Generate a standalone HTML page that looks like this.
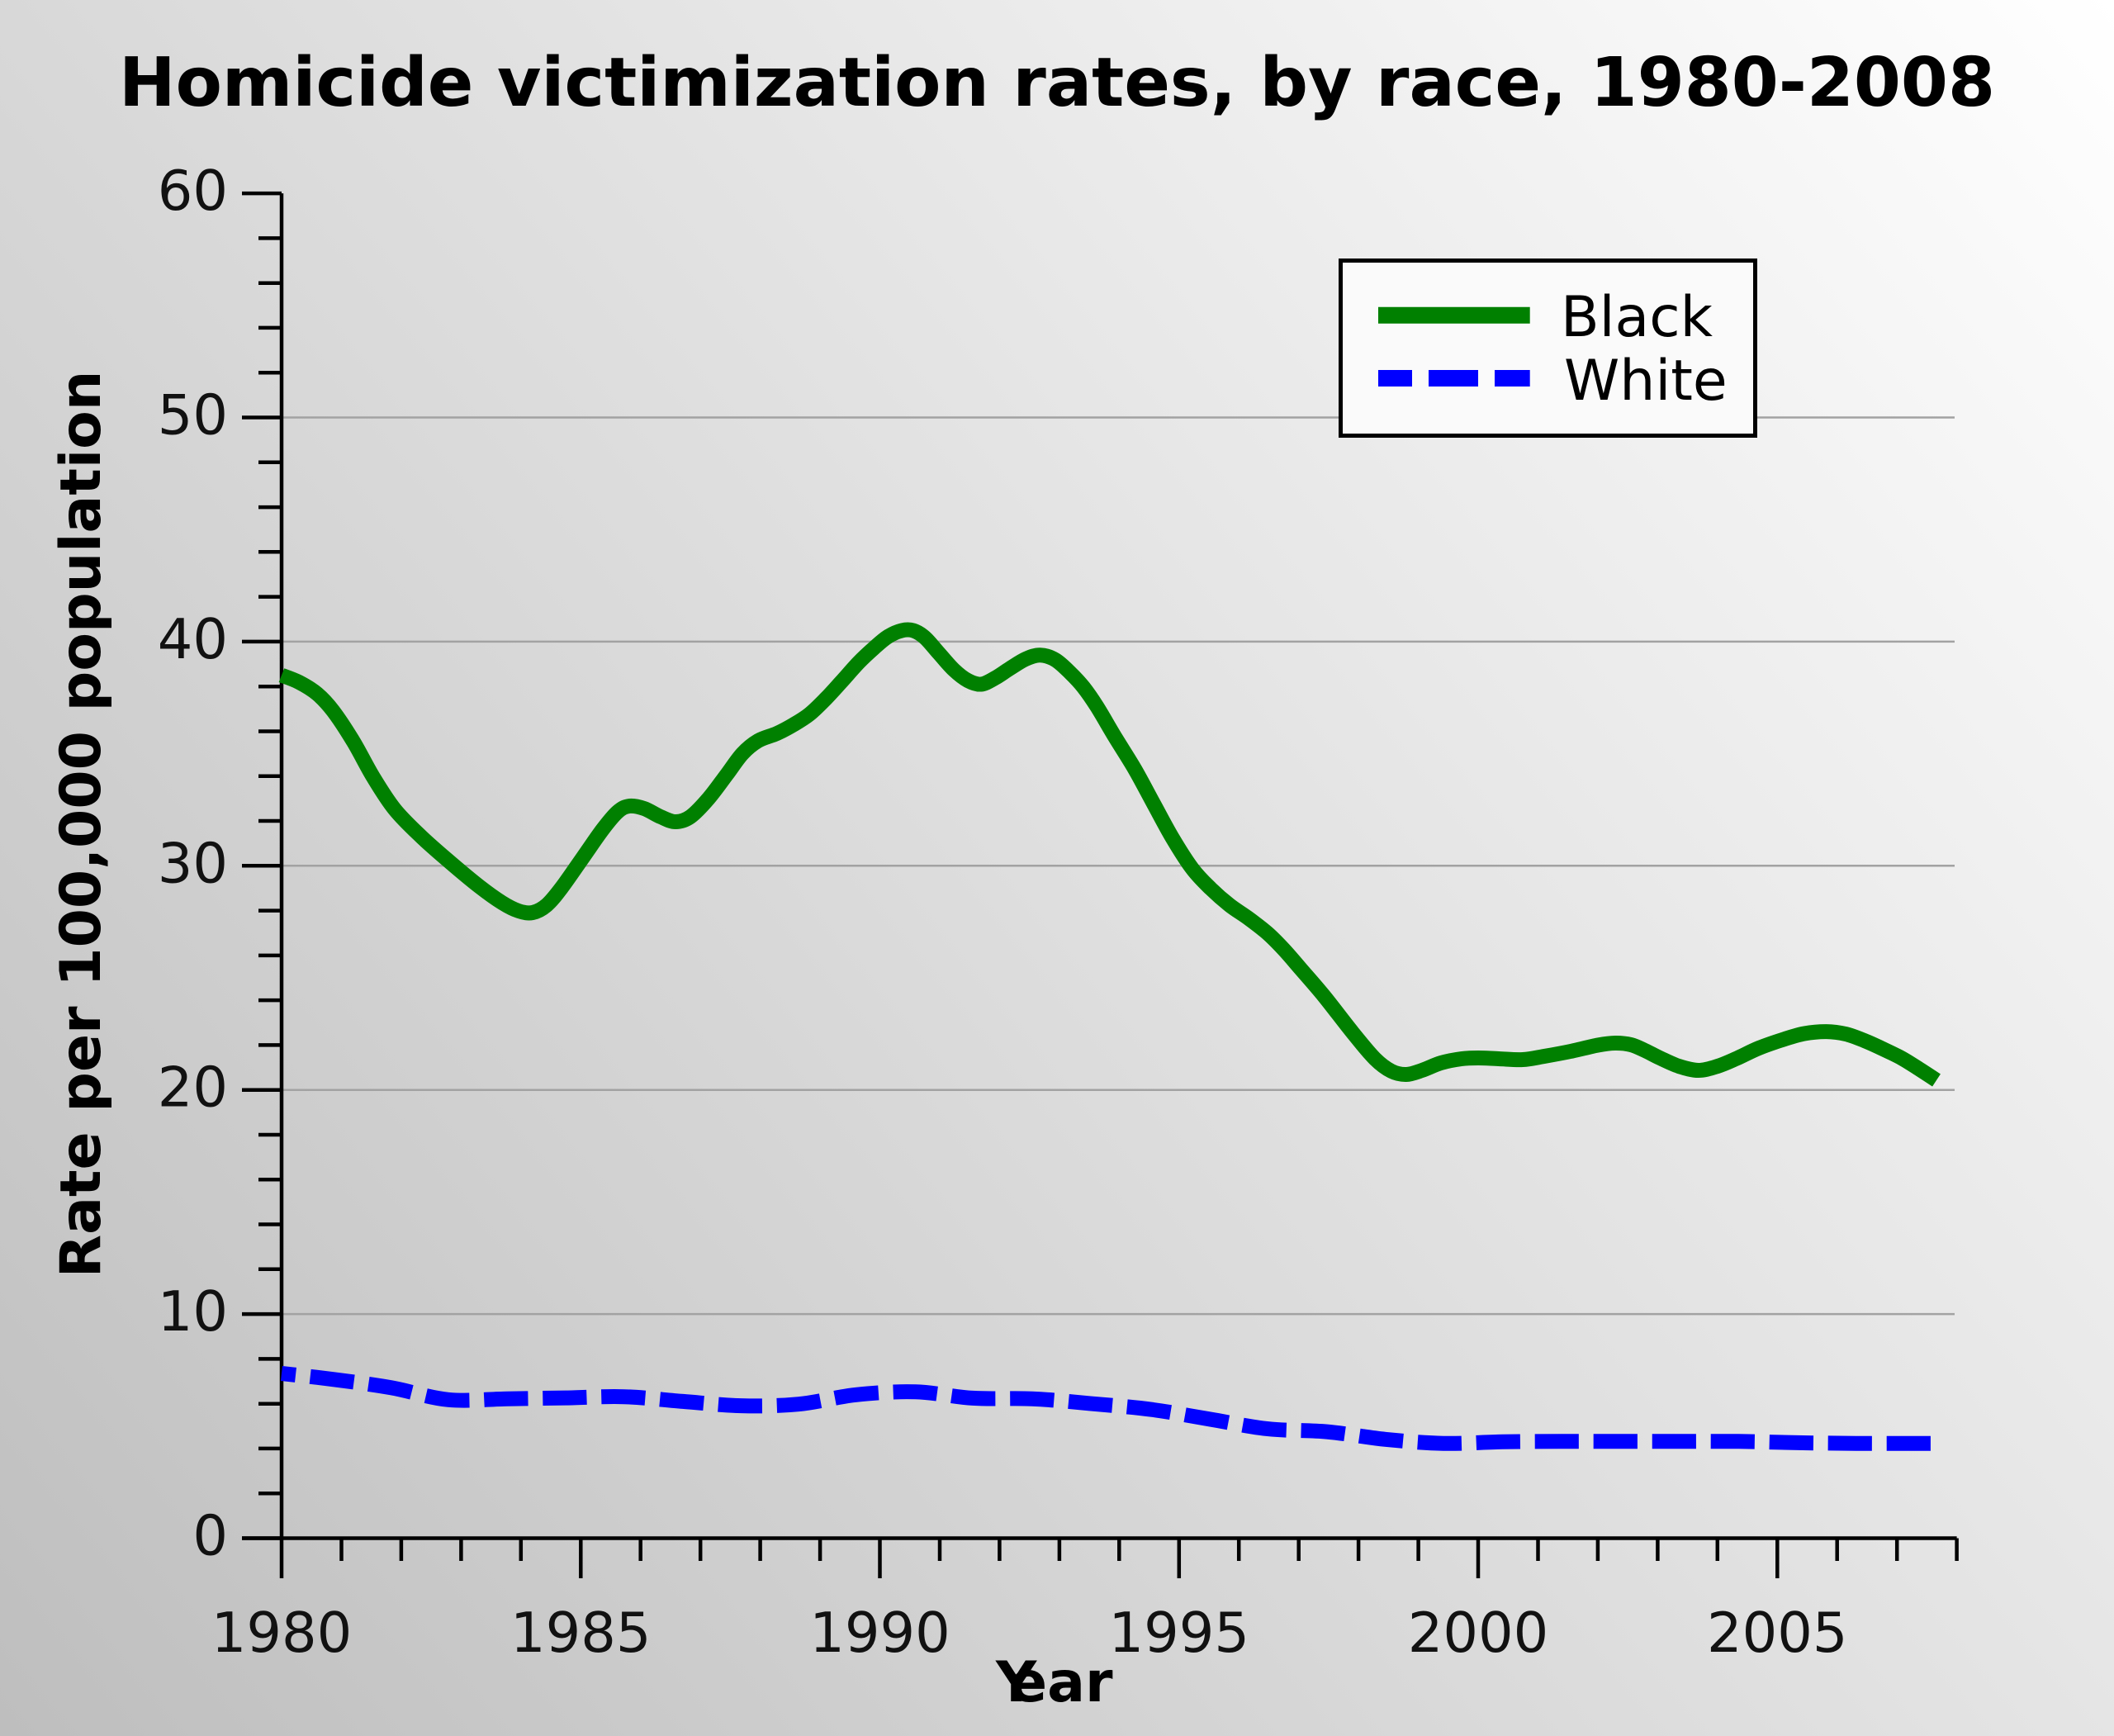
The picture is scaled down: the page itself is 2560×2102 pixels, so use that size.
<!DOCTYPE html>
<html>
<head>
<meta charset="utf-8">
<style>
html,body{margin:0;padding:0;background:#ddd;}
svg{display:block;}
text{font-family:"DejaVu Sans","Liberation Sans",sans-serif;}
</style>
</head>
<body>
<svg xmlns="http://www.w3.org/2000/svg" width="2560" height="2102" viewBox="0 0 2560 2102">
  <defs>
    <linearGradient id="bg" gradientUnits="userSpaceOnUse" x1="0" y1="2102" x2="2560" y2="0">
      <stop offset="0" stop-color="#bebebe"/>
      <stop offset="1" stop-color="#ffffff"/>
    </linearGradient>
  </defs>
  <rect x="0" y="0" width="2560" height="2102" fill="url(#bg)"/>

  <!-- Title -->
  <text x="1280" y="128" text-anchor="middle" font-size="82" font-weight="bold" fill="#000" textLength="2272" lengthAdjust="spacingAndGlyphs">Homicide victimization rates, by race, 1980-2008</text>

  <!-- Gridlines -->
  <g stroke="#a2a2a2" stroke-width="2.5" fill="none">
    <path d="M341 1591.1H2367M341 1319.7H2367M341 1048.3H2367M341 776.9H2367M341 505.5H2367"/>
  </g>

  <!-- Axes & ticks -->
  <g stroke="#000" stroke-width="4.5" fill="none">
    <path d="M341 234.1V1911M293 1862.5H2369.6"/>
    <path d="M293 1862.5H341M293 1591.1H341M293 1319.7H341M293 1048.3H341M293 776.9H341M293 505.5H341M293 234.1H341"/>
    <path d="M313 1808.2H341M313 1753.9H341M313 1699.7H341M313 1645.4H341
             M313 1536.8H341M313 1482.5H341M313 1428.3H341M313 1374H341
             M313 1265.4H341M313 1211.1H341M313 1156.9H341M313 1102.6H341
             M313 994H341M313 939.7H341M313 885.5H341M313 831.2H341
             M313 722.6H341M313 668.3H341M313 614.1H341M313 559.8H341
             M313 451.2H341M313 396.9H341M313 342.7H341M313 288.4H341"/>
    <path d="M703.3 1862.5V1911M1065.5 1862.5V1911M1427.8 1862.5V1911M1790 1862.5V1911M2152.3 1862.5V1911"/>
    <path d="M413.5 1862.5V1890M485.9 1862.5V1890M558.4 1862.5V1890M630.8 1862.5V1890
             M775.7 1862.5V1890M848.2 1862.5V1890M920.6 1862.5V1890M993.1 1862.5V1890
             M1138 1862.5V1890M1210.4 1862.5V1890M1282.9 1862.5V1890M1355.3 1862.5V1890
             M1500.2 1862.5V1890M1572.7 1862.5V1890M1645.1 1862.5V1890M1717.6 1862.5V1890
             M1862.5 1862.5V1890M1934.9 1862.5V1890M2007.4 1862.5V1890M2079.8 1862.5V1890
             M2224.7 1862.5V1890M2297.2 1862.5V1890M2369.6 1862.5V1890"/>
  </g>

  <!-- Y tick labels -->
  <g font-size="67" fill="#111" text-anchor="end">
    <text x="276" y="1882.5">0</text>
    <text x="276" y="1611.1">10</text>
    <text x="276" y="1339.7">20</text>
    <text x="276" y="1068.3">30</text>
    <text x="276" y="796.9">40</text>
    <text x="276" y="525.5">50</text>
    <text x="276" y="254.1">60</text>
  </g>

  <!-- X tick labels -->
  <g font-size="67" fill="#111" text-anchor="middle">
    <text x="341" y="2000">1980</text>
    <text x="703.3" y="2000">1985</text>
    <text x="1065.5" y="2000">1990</text>
    <text x="1427.8" y="2000">1995</text>
    <text x="1790" y="2000">2000</text>
    <text x="2152.3" y="2000">2005</text>
  </g>

  <!-- Axis titles -->
  <text transform="translate(121,998) rotate(-90)" text-anchor="middle" font-size="68" font-weight="bold" fill="#000">Rate per 100,000 population</text>
  <text y="2060" font-size="68" font-weight="bold" fill="#000"><tspan x="1206">Y</tspan><tspan x="1222">ear</tspan></text>

  <!-- Series: Black -->
  <path id="black" fill="none" stroke="#008000" stroke-width="18" stroke-linejoin="round" stroke-linecap="butt"
    d="M341 817.6 L362 826 L384 840 L403.5 861 L428 898 L452 941 L478 980 L510 1013 L545 1044 L580 1073 L608 1093 L628 1103 L645 1105 L662 1096 L680 1075 L706.5 1037.4 L730 1004 L748 983 L762 976 L780 979 L800 989 L818 995 L836 989 L858 966.9 L880 938 L899 912.6 L918 897 L940.6 888.2 L960 878 L980 865 L1000 846 L1018.7 825.7 L1040 802 L1058 785 L1075 771 L1092 763.5 L1106 763.5 L1120 772 L1137 791 L1155 811 L1172 824 L1188 828.5 L1205 821 L1222.8 809.5 L1242 798 L1259.6 793.2 L1278 799 L1296.3 814.9 L1312 832 L1328.4 855.6 L1350 892 L1374.4 931.6 L1397.3 973.7 L1420 1015 L1444 1052 L1466.2 1076 L1489 1096 L1512 1112 L1535 1130 L1555 1150 L1575 1173 L1603.3 1206 L1637.8 1250 L1665 1282 L1685 1297 L1703 1301 L1722 1296 L1745 1287 L1770 1282 L1790 1281 L1815 1282 L1844 1283 L1870 1279 L1902 1273 L1935 1265.5 L1956 1263 L1975 1265 L1992 1272 L2010 1281 L2033 1291 L2056.8 1296 L2080 1291 L2102.8 1281.7 L2130 1269 L2160.2 1258.4 L2185 1251.5 L2211.8 1249.1 L2235 1252 L2257.7 1260 L2280 1270 L2303.7 1281.7 L2325 1295 L2345 1308"/>

  <!-- Series: White -->
  <path id="white" fill="none" stroke="#0000ff" stroke-width="18" stroke-linejoin="round" stroke-linecap="butt"
    stroke-dasharray="53.2 17.8" stroke-dashoffset="36"
    d="M341 1663 L404.3 1670.3 L474.2 1680.4 L542.8 1694.8 L614 1693.7 L685.3 1692.6 L755.9 1691.2 L827.1 1696.9 L897 1702.1 L967 1700.2 L1036.9 1688.8 L1108.8 1685.3 L1178 1692.9 L1250 1693.7 L1320 1699.4 L1394.5 1706.7 L1464.9 1718.4 L1535.3 1730.1 L1607.1 1733.6 L1677.5 1742.8 L1748 1747.7 L1819.8 1745.8 L1890.9 1745.3 L1962.6 1745.3 L2034.4 1745.3 L2105.5 1745.3 L2177.3 1746.9 L2247.7 1747.7 L2319.5 1747.7 L2346 1747.7"/>

  <!-- Legend -->
  <rect x="1623.5" y="315.5" width="502" height="212" fill="#fafafa" stroke="#000" stroke-width="5"/>
  <path d="M1669 381.7H1852.7" stroke="#008000" stroke-width="20" fill="none"/>
  <path d="M1669 458H1852.7" stroke="#0000ff" stroke-width="20" fill="none" stroke-dasharray="60 20" stroke-dashoffset="19"/>
  <text x="1890" y="407" font-size="68" fill="#000">Black</text>
  <text x="1894" y="484" font-size="68" fill="#000">White</text>
</svg>
<script>
(function(){
  function smooth(id){
    var el=document.getElementById(id);
    if(!el) return;
    var nums=el.getAttribute('d').match(/-?[\d.]+/g).map(Number);
    var p=[];
    for(var i=0;i<nums.length;i+=2) p.push([nums[i],nums[i+1]]);
    var f=function(v){return v.toFixed(2);};
    var d='M'+f(p[0][0])+' '+f(p[0][1]);
    for(var i=0;i<p.length-1;i++){
      var p0=p[i-1]||p[i], p1=p[i], p2=p[i+1], p3=p[i+2]||p[i+1];
      var c1=[p1[0]+(p2[0]-p0[0])/6, p1[1]+(p2[1]-p0[1])/6];
      var c2=[p2[0]-(p3[0]-p1[0])/6, p2[1]-(p3[1]-p1[1])/6];
      d+=' C'+f(c1[0])+' '+f(c1[1])+' '+f(c2[0])+' '+f(c2[1])+' '+f(p2[0])+' '+f(p2[1]);
    }
    el.setAttribute('d',d);
  }
  smooth('black');
  smooth('white');
})();
</script>
</body>
</html>
